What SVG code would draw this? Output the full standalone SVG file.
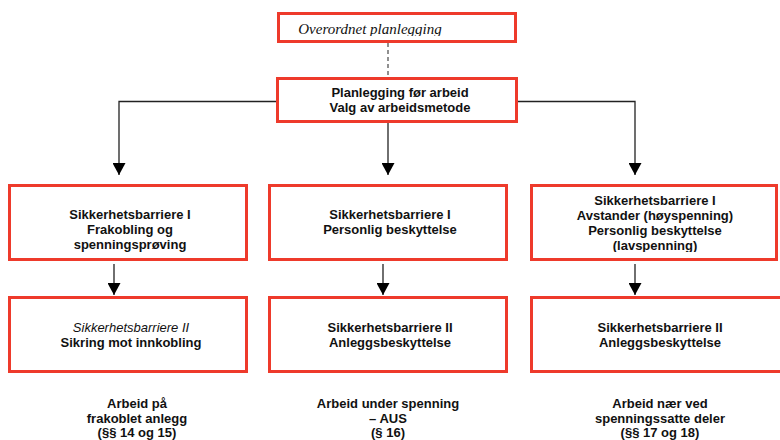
<svg xmlns="http://www.w3.org/2000/svg" width="780" height="440" viewBox="0 0 780 440">
<style>
.box{fill:#fff;stroke:#EE3A2B;stroke-width:3}
.t{font-family:"Liberation Sans",Arial,sans-serif;font-size:13px;font-weight:bold;fill:#111;text-anchor:middle}
.i{font-weight:normal;font-style:italic}
.c{stroke:#222;stroke-width:1.3;fill:none}
</style>
<defs>
<marker id="ah" viewBox="0 0 12 13" refX="12" refY="6.5" markerWidth="12" markerHeight="13" markerUnits="userSpaceOnUse" orient="auto">
<path d="M0,0 L12,6.5 L0,13 Z" fill="#000"/>
</marker>
<clipPath id="cl1"><rect x="0" y="0" width="780" height="252"/></clipPath>
<clipPath id="cl0"><rect x="0" y="0" width="780" height="36"/></clipPath>
</defs>
<g id="connectors">
<line class="c" x1="388" y1="43" x2="388" y2="77" stroke-dasharray="4,3" style="stroke:#555"/>
<polyline class="c" points="276,101.5 119,101.5 119,175" marker-end="url(#ah)"/>
<line class="c" x1="388" y1="123" x2="388" y2="175" marker-end="url(#ah)"/>
<polyline class="c" points="518,101.5 635,101.5 635,175" marker-end="url(#ah)"/>
<line class="c" x1="114" y1="264" x2="114" y2="295" marker-end="url(#ah)"/>
<line class="c" x1="383" y1="264" x2="383" y2="295" marker-end="url(#ah)"/>
<line class="c" x1="635" y1="264" x2="635" y2="295" marker-end="url(#ah)"/>
</g>
<g id="overordnet">
<rect class="box" x="278.5" y="13.5" width="237" height="28"/>
<text x="370" y="34" clip-path="url(#cl0)" style="font-family:'Liberation Serif','Times New Roman',serif;font-size:15px;font-style:italic;fill:#111;text-anchor:middle">Overordnet planlegging</text>
</g>
<g id="planlegging">
<rect class="box" x="277.5" y="78.5" width="239" height="43"/>
<text class="t" x="400" y="97">Planlegging før arbeid</text>
<text class="t" x="400" y="112">Valg av arbeidsmetode</text>
</g>
<g id="barriere1-left">
<rect class="box" x="9.5" y="185.5" width="237" height="74"/>
<g clip-path="url(#cl1)">
<text class="t" x="130" y="219">Sikkerhetsbarriere I</text>
<text class="t" x="130" y="234">Frakobling og</text>
<text class="t" x="130" y="249">spenningsprøving</text>
</g>
</g>
<g id="barriere1-mid">
<rect class="box" x="269.5" y="185.5" width="237" height="74"/>
<text class="t" x="390" y="219">Sikkerhetsbarriere I</text>
<text class="t" x="390" y="234">Personlig beskyttelse</text>
</g>
<g id="barriere1-right">
<rect class="box" x="531.5" y="185.5" width="245" height="74"/>
<g clip-path="url(#cl1)">
<text class="t" x="655" y="205">Sikkerhetsbarriere I</text>
<text class="t" x="655" y="220">Avstander (høyspenning)</text>
<text class="t" x="655" y="235">Personlig beskyttelse</text>
<text class="t" x="655" y="250">(lavspenning)</text>
</g>
</g>
<g id="barriere2-left">
<rect class="box" x="9.5" y="297.5" width="237" height="74"/>
<text class="t i" x="131" y="332">Sikkerhetsbarriere II</text>
<text class="t" x="131" y="347">Sikring mot innkobling</text>
</g>
<g id="barriere2-mid">
<rect class="box" x="269.5" y="297.5" width="237" height="74"/>
<text class="t" x="390" y="332">Sikkerhetsbarriere II</text>
<text class="t" x="390" y="347">Anleggsbeskyttelse</text>
</g>
<g id="barriere2-right">
<rect class="box" x="531.5" y="297.5" width="262" height="74"/>
<text class="t" x="660" y="332">Sikkerhetsbarriere II</text>
<text class="t" x="660" y="347">Anleggsbeskyttelse</text>
</g>
<g id="label-left">
<text class="t" x="137" y="408">Arbeid på</text>
<text class="t" x="137" y="423">frakoblet anlegg</text>
<text class="t" x="137" y="437">(§§ 14 og 15)</text>
</g>
<g id="label-mid">
<text class="t" x="388" y="408">Arbeid under spenning</text>
<text class="t" x="388" y="423">– AUS</text>
<text class="t" x="388" y="437">(§ 16)</text>
</g>
<g id="label-right">
<text class="t" x="660" y="408">Arbeid nær ved</text>
<text class="t" x="660" y="423">spenningssatte deler</text>
<text class="t" x="660" y="437">(§§ 17 og 18)</text>
</g>
</svg>
